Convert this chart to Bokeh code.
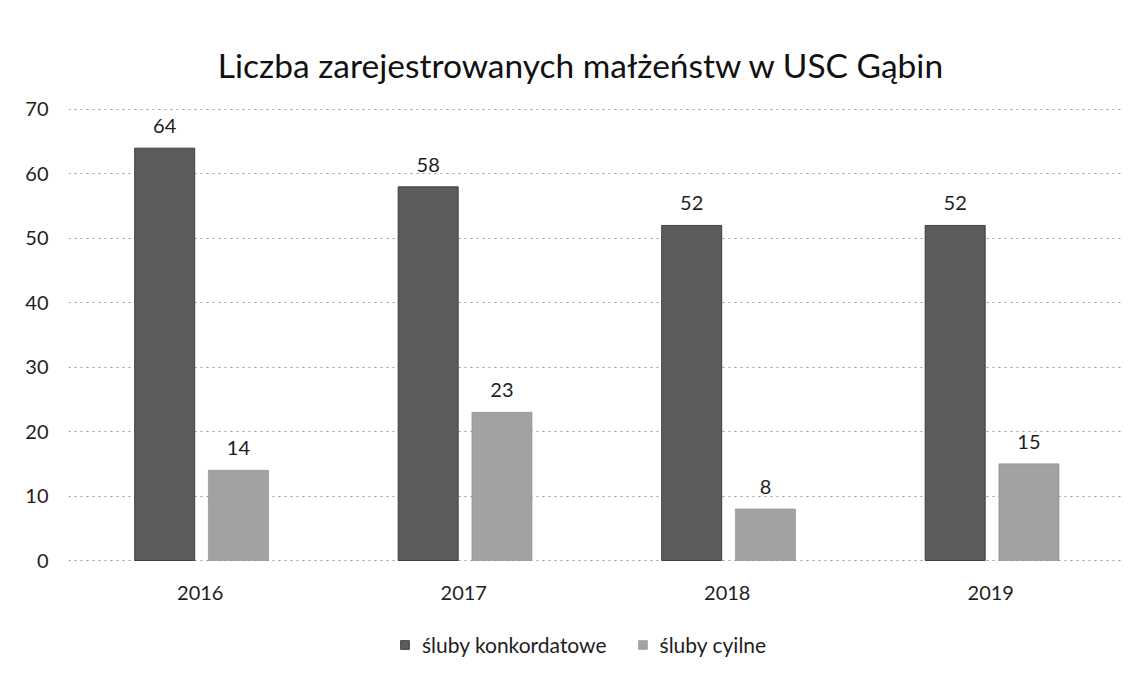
from bokeh.plotting import figure
from bokeh.models import ColumnDataSource, Label, Legend, LegendItem, FixedTicker, LabelSet
from bokeh.transform import dodge
from bokeh.core.properties import value
from bokeh.embed import file_html
from bokeh.resources import INLINE

years = ["2016", "2017", "2018", "2019"]
konkordatowe = [64, 58, 52, 52]
cywilne = [14, 23, 8, 15]
series_names = ["śluby konkordatowe", "śluby cyilne"]
title_text = "Liczba zarejestrowanych małżeństw w USC Gąbin"
y_ticks = [0, 10, 20, 30, 40, 50, 60, 70]

FONT = "Lato"
DARK = "#5c5c5c"
LIGHT = "#a2a2a2"
TXT = "#1e1e1e"

src = ColumnDataSource(dict(
    x=years, k=konkordatowe, c=cywilne,
    kl=[str(v) for v in konkordatowe], cl=[str(v) for v in cywilne],
))

p = figure(width=1129, height=670, x_range=years, y_range=(-15.83, 83.81),
           output_backend="svg", toolbar_location=None,
           min_border_left=68, min_border_right=7, min_border_top=20, min_border_bottom=8)
p.outline_line_color = None
p.background_fill_color = "white"
p.border_fill_color = "white"

r1 = p.vbar(x=dodge("x", -0.135, range=p.x_range), top="k", width=0.228, source=src,
            fill_color=DARK, line_color="#2a2a2a", line_width=0.8)
r2 = p.vbar(x=dodge("x", 0.145, range=p.x_range), top="c", width=0.228, source=src,
            fill_color=LIGHT, line_color="#8a8a8a", line_width=0.6)

for col, lab, off in (("k", "kl", -0.135), ("c", "cl", 0.145)):
    p.add_layout(LabelSet(x=dodge("x", off, range=p.x_range), y=col, text=lab, source=src,
                          y_offset=15, text_align="center", text_baseline="alphabetic",
                          text_font=value(FONT), text_font_size=value("20px"), text_color=TXT))

# category labels under the bars (the x scale's factors)
p.add_layout(LabelSet(x="x", y=0, text="x", source=src, y_offset=-39,
                      text_align="center", text_baseline="alphabetic",
                      text_font=value(FONT), text_font_size=value("20px"), text_color=TXT))

p.add_layout(Label(x=2.0, y=70, x_offset=-14, y_offset=44, text=title_text, text_align="center",
                   text_baseline="alphabetic",
                   text_font=FONT, text_font_size="33.5px", text_color="#111111"))

p.xaxis.visible = False
p.yaxis.ticker = FixedTicker(ticks=y_ticks)
p.yaxis.axis_line_color = None
p.yaxis.major_tick_line_color = None
p.yaxis.minor_tick_line_color = None
p.yaxis.major_label_standoff = 14
p.yaxis.major_label_text_font = FONT
p.yaxis.major_label_text_font_size = "20px"
p.yaxis.major_label_text_color = TXT

p.xgrid.grid_line_color = None
p.ygrid.ticker = FixedTicker(ticks=y_ticks)
p.ygrid.grid_line_color = "#999999"
p.ygrid.grid_line_dash = "2 4"
p.ygrid.grid_line_width = 1

legend = Legend(items=[LegendItem(label=series_names[0], renderers=[r1]),
                       LegendItem(label=series_names[1], renderers=[r2])],
                orientation="horizontal", location=(331, 5),
                label_text_font=FONT, label_text_font_size="21px", label_text_color=TXT,
                glyph_width=11, glyph_height=11, spacing=30, label_standoff=12,
                border_line_color=None, background_fill_alpha=0, margin=0, padding=5)
p.add_layout(legend)

open("out.html", "w").write(file_html(p, INLINE))
